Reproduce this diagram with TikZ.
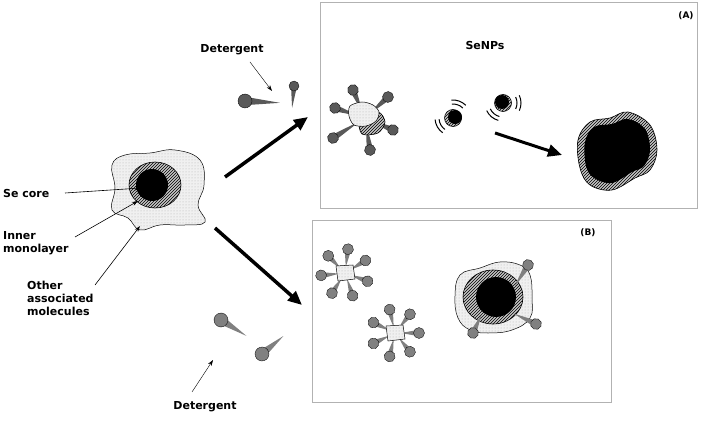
\documentclass[tikz,border=0pt]{standalone}
\usepackage{fontspec}
\setmainfont{DejaVu Sans}
\usetikzlibrary{patterns,arrows.meta}
\definecolor{headA}{gray}{0.35}
\definecolor{headB}{gray}{0.5}
\tikzset{
  lbl/.style={font=\bfseries\fontsize{11}{13}\selectfont,align=left,inner sep=0pt},
  thin arrow/.style={-{Stealth[length=6pt,width=4pt]},line width=0.6pt},
  big arrow/.style={-{Triangle[length=14pt,width=12pt]},line width=3.5pt},
  box/.style={draw=gray!60,line width=0.8pt},
  cloud/.style={draw=black,line width=0.5pt,fill=gray!12,postaction={pattern=dots,pattern color=gray!60}},
  shell/.style={draw=black,line width=0.6pt,fill=gray!45,postaction={pattern=north east lines,pattern color=black}},
  core/.style={fill=black}
}
% detergent: head at (x,y), tail direction (pixel angle), length, head radius, colour
\newcommand{\deter}[6]{\begin{scope}[shift={(#1,#2)},rotate=-#3]
 \fill[#6] (0,#5*0.6) -- (#4,0) -- (0,-#5*0.6) -- cycle;
 \fill[#6] (0,0) circle (#5);\draw[line width=0.3pt] (0,0) circle (#5);\end{scope}}
\begin{document}
\begin{tikzpicture}[x=1pt,y=-1pt]
\useasboundingbox (0,0) rectangle (709,430);
% boxes
\draw[box] (320,2) rectangle (697,208);
\draw[box] (312,220) rectangle (611,402);
\node[lbl,font=\bfseries\fontsize{9}{11}\selectfont] (labA) at (686,16) {(A)};
\node[lbl,font=\bfseries\fontsize{9}{11}\selectfont] (labB) at (588,233) {(B)};
\node[lbl] (senp) at (485,45) {SeNPs};
% main particle
\draw[cloud] plot[smooth cycle,tension=0.7] coordinates {(112,165)(125,155)(150,153)(175,150)(200,160)(204,185)(198,205)(205,222)(185,225)(160,225)(140,230)(128,218)(112,210)(115,188)};
\draw[shell] (155,185) ellipse (26 and 23);
\fill[core] (152,185) circle (16);
\coordinate (secore) at (141,188);
\coordinate (inner) at (138,201);
\coordinate (other) at (140,226);
\node[lbl,anchor=west] (t1) at (3,193) {Se core};
\node[lbl,anchor=north west] (t2) at (3,231) {Inner\\monolayer};
\node[lbl,anchor=north west] (t3) at (27,281) {Other\\associated\\molecules};
\draw[thin arrow] (65,193) -- (secore);
\draw[thin arrow] (75,237) -- (inner);
\draw[thin arrow] (95,285) -- (other);
% big arrows
\coordinate (a1s) at (225,177); \coordinate (a1e) at (308,117);
\coordinate (a2s) at (215,228); \coordinate (a2e) at (302,305);
\draw[big arrow] (a1s) -- (a1e);
\draw[big arrow] (a2s) -- (a2e);
% detergents top
\node[lbl] (det1) at (232,50) {Detergent};
\coordinate (d1p) at (272,91);
\draw[thin arrow,line width=0.4pt] (250,62) -- (d1p);
\deter{245}{101}{3}{35}{7}{headA}
\deter{294}{86}{95}{22}{5}{headA}
% detergents bottom
\deter{221}{320}{32}{30}{7}{headB}
\deter{262}{354}{-40}{28}{7}{headB}
\node[lbl] (det2) at (205,407) {Detergent};
\coordinate (d2p) at (213,360);
\draw[thin arrow,line width=0.4pt] (192,392) -- (d2p);
% box A micelle
\foreach \hx/\hy in {353/90,388/97,335/108,393/130,333/138,370/150}{
  \pgfmathsetmacro\ang{atan2(118-\hy,365-\hx)}
  \pgfmathsetmacro\len{veclen(365-\hx,118-\hy)-6}
  \deter{\hx}{\hy}{\ang}{\len}{5.5}{headA}}
\draw[shell] plot[smooth cycle] coordinates {(360,120)(378,112)(385,122)(378,133)(362,134)};
\draw[cloud] plot[smooth cycle] coordinates {(350,106)(362,102)(373,105)(379,112)(376,121)(366,126)(354,125)(349,116)};
% small particles
\draw[shell] (453,118) circle (8.5); \fill[core] (455,117) circle (7);
\draw[shell] (503,103) circle (8.5); \fill[core] (502,102) circle (7);
\foreach \cx/\cy/\a in {453/118/150,453/118/290,503/103/130,503/103/0}{
 \draw[line width=1pt] ([shift={(\a-25:14)}]\cx,\cy) arc (\a-25:\a+25:14);
 \draw[line width=1pt] ([shift={(\a-25:18)}]\cx,\cy) arc (\a-25:\a+25:18);}
\coordinate (a3s) at (495,133); \coordinate (a3e) at (562,155);
\draw[big arrow,line width=3pt] (a3s) -- (a3e);
% big aggregate
\draw[shell] plot[smooth cycle,tension=0.6] coordinates {(578,140)(590,122)(610,118)(628,112)(650,125)(657,150)(650,170)(635,178)(612,190)(590,185)(580,168)};
\fill[core] plot[smooth cycle,tension=0.6] coordinates {(585,142)(594,127)(612,124)(628,119)(645,129)(650,150)(644,166)(632,172)(612,183)(594,178)(586,166)};
% box B micelles
\foreach \cx/\cy/\R/\s in {345/273/24/20,395/333/24/0}{
 \foreach \k in {0,...,6}{
  \pgfmathsetmacro\aa{\s+\k*360/7}
  \pgfmathsetmacro\hx{\cx+\R*cos(\aa)}
  \pgfmathsetmacro\hy{\cy+\R*sin(\aa)}
  \deter{\hx}{\hy}{\aa+180}{\R-6}{5.5}{headB}}
 \draw[cloud] (\cx-9,\cy-7) -- (\cx+8,\cy-8) -- (\cx+10,\cy+6) -- (\cx-7,\cy+8) -- cycle;}
% box B big particle
\draw[cloud] plot[smooth cycle,tension=0.7] coordinates {(460,275)(480,268)(500,262)(520,265)(530,275)(532,298)(530,318)(512,330)(488,333)(470,330)(458,318)(455,296)};
\draw[shell] (493,297) ellipse (30 and 27);
\fill[core] (496,297) circle (20);
\deter{528}{265}{122}{25}{5.5}{headB}
\deter{536}{324}{205}{25}{5.5}{headB}
\deter{473}{333}{-65}{20}{5.5}{headB}
\end{tikzpicture}
\end{document}
